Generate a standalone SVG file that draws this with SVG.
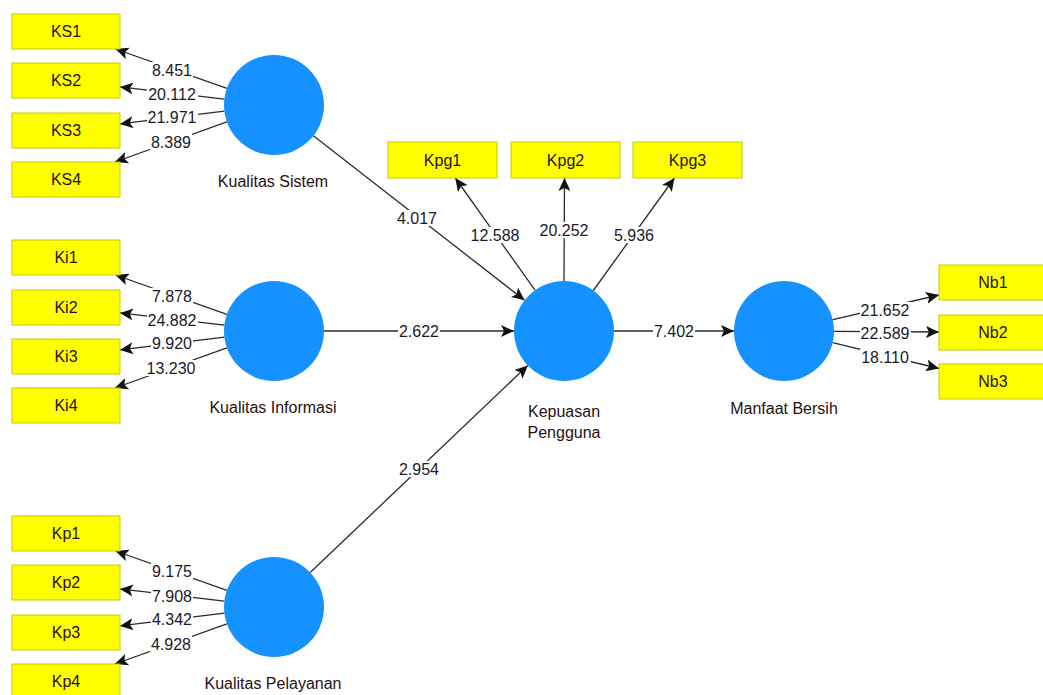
<svg xmlns="http://www.w3.org/2000/svg" width="1043" height="695" viewBox="0 0 1043 695">
<style>
.box{fill:#ffff00;stroke:#c9c900;stroke-width:1}
.bt{font-family:"Liberation Sans",Arial,sans-serif;font-size:16px;fill:#2a1010;text-anchor:middle}
.lv{fill:#1592ff}
.lt{font-family:"Liberation Sans",Arial,sans-serif;font-size:16px;fill:#2a1010;text-anchor:middle}
.e{stroke:#2a2a2a;stroke-width:1.3;fill:none;marker-end:url(#ah)}
.bg{fill:#ffffff}
.nt{font-family:"Liberation Sans",Arial,sans-serif;font-size:16px;fill:#1a1a2a;text-anchor:middle}
</style>
<defs>
<marker id="ah" markerUnits="userSpaceOnUse" markerWidth="14" markerHeight="12" refX="13" refY="6" orient="auto">
<path d="M0,0 L13,6 L0,12 L3,6 z" fill="#111"/>
</marker>
</defs>
<rect width="1043" height="695" fill="#ffffff"/>
<g id="connectors">
<line class="e" x1="226.9" y1="88.3" x2="115.5" y2="49"/>
<line class="e" x1="224.3" y1="99.2" x2="120" y2="86.9"/>
<line class="e" x1="224.4" y1="111.1" x2="120" y2="123.9"/>
<line class="e" x1="226.9" y1="121.9" x2="114.9" y2="162"/>
<line class="e" x1="226.9" y1="314.3" x2="115.5" y2="275"/>
<line class="e" x1="224.3" y1="325.2" x2="120" y2="312.9"/>
<line class="e" x1="224.4" y1="337.1" x2="120" y2="349.9"/>
<line class="e" x1="226.9" y1="347.9" x2="114.9" y2="388"/>
<line class="e" x1="226.9" y1="590.3" x2="115.5" y2="551"/>
<line class="e" x1="224.3" y1="601.2" x2="120" y2="588.9"/>
<line class="e" x1="224.4" y1="613.1" x2="120" y2="625.9"/>
<line class="e" x1="226.9" y1="623.9" x2="114.9" y2="664"/>
<line class="e" x1="535" y1="290.2" x2="455.3" y2="178"/>
<line class="e" x1="564" y1="281" x2="564.5" y2="178"/>
<line class="e" x1="593.3" y1="290.5" x2="674.5" y2="178"/>
<line class="e" x1="313.4" y1="135.7" x2="524.6" y2="300.3"/>
<line class="e" x1="324" y1="331" x2="514" y2="331"/>
<line class="e" x1="310.2" y1="572.5" x2="527.8" y2="365.4"/>
<line class="e" x1="614" y1="331" x2="734" y2="331"/>
<line class="e" x1="832.7" y1="319.7" x2="939" y2="295"/>
<line class="e" x1="834" y1="331.4" x2="939" y2="332"/>
<line class="e" x1="832.6" y1="342.7" x2="939" y2="368.5"/>
<g id="edge-labels">
<rect class="bg" x="151" y="62" width="42" height="16"/><text class="nt" x="172" y="76">8.451</text>
<rect class="bg" x="147" y="86" width="51" height="16"/><text class="nt" x="172" y="100">20.112</text>
<rect class="bg" x="147" y="109" width="51" height="16"/><text class="nt" x="172" y="123">21.971</text>
<rect class="bg" x="150" y="134" width="42" height="16"/><text class="nt" x="171" y="148">8.389</text>
<rect class="bg" x="151" y="288" width="42" height="16"/><text class="nt" x="172" y="302">7.878</text>
<rect class="bg" x="147" y="312" width="51" height="16"/><text class="nt" x="172" y="326">24.882</text>
<rect class="bg" x="151" y="335" width="42" height="16"/><text class="nt" x="172" y="349">9.920</text>
<rect class="bg" x="146" y="360" width="51" height="16"/><text class="nt" x="171" y="374">13.230</text>
<rect class="bg" x="151" y="563" width="42" height="16"/><text class="nt" x="172" y="577">9.175</text>
<rect class="bg" x="151" y="588" width="42" height="16"/><text class="nt" x="172" y="602">7.908</text>
<rect class="bg" x="151" y="611" width="42" height="16"/><text class="nt" x="172" y="625">4.342</text>
<rect class="bg" x="150" y="636" width="42" height="16"/><text class="nt" x="171" y="650">4.928</text>
<rect class="bg" x="396" y="210" width="42" height="16"/><text class="nt" x="417" y="224">4.017</text>
<rect class="bg" x="470" y="227" width="51" height="16"/><text class="nt" x="495" y="241">12.588</text>
<rect class="bg" x="539" y="222" width="51" height="16"/><text class="nt" x="564" y="236">20.252</text>
<rect class="bg" x="613" y="227" width="42" height="16"/><text class="nt" x="634" y="241">5.936</text>
<rect class="bg" x="398" y="323" width="42" height="16"/><text class="nt" x="419" y="337">2.622</text>
<rect class="bg" x="398" y="461" width="42" height="16"/><text class="nt" x="419" y="475">2.954</text>
<rect class="bg" x="653" y="323" width="42" height="16"/><text class="nt" x="674" y="337">7.402</text>
<rect class="bg" x="860" y="302" width="51" height="16"/><text class="nt" x="885" y="316">21.652</text>
<rect class="bg" x="860" y="325" width="51" height="16"/><text class="nt" x="885" y="339">22.589</text>
<rect class="bg" x="860" y="349" width="51" height="16"/><text class="nt" x="885" y="363">18.110</text>
</g>
</g>
<g id="KS1"><rect class="box" x="12" y="14" width="108" height="35"/><text class="bt" x="66" y="37">KS1</text></g>
<g id="KS2"><rect class="box" x="12" y="63" width="108" height="35"/><text class="bt" x="66" y="86">KS2</text></g>
<g id="KS3"><rect class="box" x="12" y="113" width="108" height="35"/><text class="bt" x="66" y="136">KS3</text></g>
<g id="KS4"><rect class="box" x="12" y="162" width="108" height="35"/><text class="bt" x="66" y="185">KS4</text></g>
<g id="Ki1"><rect class="box" x="12" y="240" width="108" height="35"/><text class="bt" x="66" y="263">Ki1</text></g>
<g id="Ki2"><rect class="box" x="12" y="290" width="108" height="35"/><text class="bt" x="66" y="313">Ki2</text></g>
<g id="Ki3"><rect class="box" x="12" y="339" width="108" height="35"/><text class="bt" x="66" y="362">Ki3</text></g>
<g id="Ki4"><rect class="box" x="12" y="388" width="108" height="35"/><text class="bt" x="66" y="411">Ki4</text></g>
<g id="Kp1"><rect class="box" x="12" y="516" width="108" height="35"/><text class="bt" x="66" y="539">Kp1</text></g>
<g id="Kp2"><rect class="box" x="12" y="565" width="108" height="35"/><text class="bt" x="66" y="588">Kp2</text></g>
<g id="Kp3"><rect class="box" x="12" y="615" width="108" height="35"/><text class="bt" x="66" y="638">Kp3</text></g>
<g id="Kp4"><rect class="box" x="12" y="664" width="108" height="35"/><text class="bt" x="66" y="687">Kp4</text></g>
<g id="Kpg1"><rect class="box" x="388" y="142" width="109" height="36"/><text class="bt" x="442.5" y="166">Kpg1</text></g>
<g id="Kpg2"><rect class="box" x="511" y="142" width="109" height="36"/><text class="bt" x="565.5" y="166">Kpg2</text></g>
<g id="Kpg3"><rect class="box" x="633" y="142" width="109" height="36"/><text class="bt" x="687.5" y="166">Kpg3</text></g>
<g id="Nb1"><rect class="box" x="939" y="265" width="108" height="35"/><text class="bt" x="993" y="288">Nb1</text></g>
<g id="Nb2"><rect class="box" x="939" y="315" width="108" height="35"/><text class="bt" x="993" y="338">Nb2</text></g>
<g id="Nb3"><rect class="box" x="939" y="364" width="108" height="35"/><text class="bt" x="993" y="387">Nb3</text></g>
<g id="KualitasSistem"><circle class="lv" cx="274" cy="105" r="50"/><text class="lt" x="273" y="187">Kualitas Sistem</text></g>
<g id="KualitasInformasi"><circle class="lv" cx="274" cy="331" r="50"/><text class="lt" x="273" y="413">Kualitas Informasi</text></g>
<g id="KualitasPelayanan"><circle class="lv" cx="274" cy="607" r="50"/><text class="lt" x="273" y="689">Kualitas Pelayanan</text></g>
<g id="KepuasanPengguna"><circle class="lv" cx="564" cy="331" r="50"/><text class="lt" x="564" y="417">Kepuasan</text><text class="lt" x="564" y="438">Pengguna</text></g>
<g id="ManfaatBersih"><circle class="lv" cx="784" cy="331" r="50"/><text class="lt" x="784" y="414">Manfaat Bersih</text></g>
</svg>
